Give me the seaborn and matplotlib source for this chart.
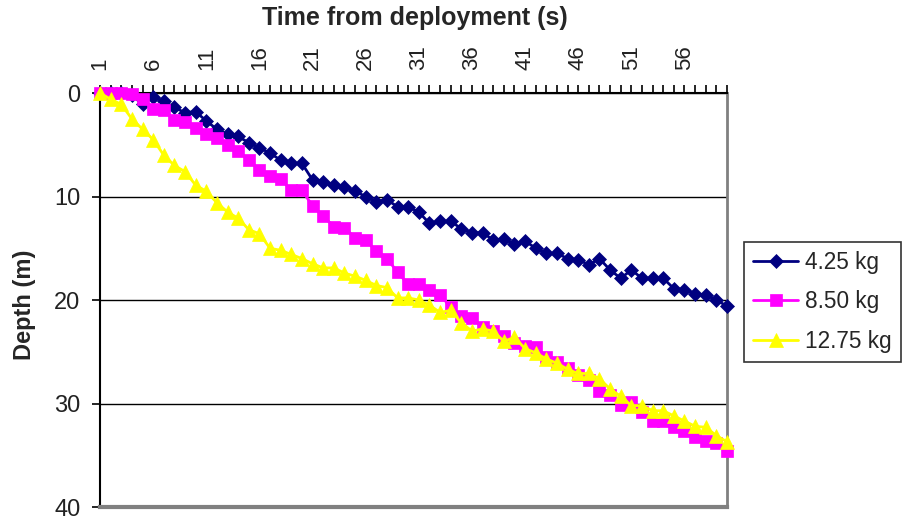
import numpy as np
import pandas as pd
import matplotlib
matplotlib.use("Agg")
import matplotlib.pyplot as plt
import seaborn as sns

# ---- data ----
time_s = list(range(1, 61))
depth_425 = [0, 0, 0, 0.2, 1.1, 0.4, 0.8, 1.4, 1.9, 1.8, 2.7, 3.5, 4.0, 4.2, 4.8, 5.3,
             5.8, 6.5, 6.8, 6.8, 8.4, 8.6, 8.9, 9.1, 9.5, 10.0, 10.5, 10.3, 11.0, 11.0,
             11.5, 12.6, 12.4, 12.4, 13.1, 13.5, 13.5, 14.2, 14.1, 14.6, 14.3, 15.0,
             15.5, 15.5, 16.0, 16.1, 16.6, 16.0, 17.1, 17.9, 17.1, 17.9, 17.9, 17.9,
             18.9, 19.0, 19.4, 19.5, 20.0, 20.6]
depth_850 = [0, 0, 0, 0.1, 0.6, 1.5, 1.6, 2.6, 2.8, 3.4, 4.0, 4.3, 5.0, 5.6, 6.5, 7.4,
             8.0, 8.3, 9.4, 9.4, 10.9, 11.9, 12.9, 13.0, 14.0, 14.2, 15.3, 16.0, 17.3,
             18.5, 18.5, 19.0, 19.5, 20.7, 21.5, 21.7, 22.6, 23.0, 23.5, 24.2, 24.4,
             24.5, 25.5, 26.0, 26.6, 27.2, 27.7, 28.8, 29.2, 30.1, 29.9, 30.8, 31.7,
             31.7, 32.3, 32.7, 33.2, 33.6, 33.8, 34.6]
depth_1275 = [0, 0.6, 1.1, 2.5, 3.5, 4.5, 6.0, 7.0, 7.6, 8.9, 9.5, 10.6, 11.5, 12.1,
              13.2, 13.6, 15.0, 15.2, 15.6, 16.0, 16.5, 16.9, 16.9, 17.4, 17.7, 18.1,
              18.6, 18.8, 19.8, 19.8, 20.0, 20.5, 21.2, 21.0, 22.2, 23.0, 22.8, 23.0,
              24.0, 23.6, 24.7, 25.1, 25.7, 26.1, 26.7, 27.1, 27.1, 27.6, 28.6, 29.3,
              30.2, 30.2, 30.7, 30.7, 31.2, 31.7, 32.2, 32.3, 33.1, 33.7]
series_names = ["4.25 kg", "8.50 kg", "12.75 kg"]
y_ticks = [0, 10, 20, 30, 40]
x_tick_labels = [1, 6, 11, 16, 21, 26, 31, 36, 41, 46, 51, 56]

df = pd.DataFrame({
    "time": time_s * 3,
    "depth": depth_425 + depth_850 + depth_1275,
    "mass": [series_names[0]] * 60 + [series_names[1]] * 60 + [series_names[2]] * 60,
})

sns.set_theme(style="white")
plt.rcParams["font.family"] = ["Liberation Sans", "DejaVu Sans"]

fig = plt.figure(figsize=(9.09, 5.23), dpi=100)
ax = fig.add_axes([100 / 909, 1 - 507 / 523, 627 / 909, 414 / 523])

colors = {"4.25 kg": "#000080", "8.50 kg": "#FF00FF", "12.75 kg": "#FFFF00"}
markers = {"4.25 kg": "D", "8.50 kg": "s", "12.75 kg": "^"}
msizes = {"4.25 kg": 7.3, "8.50 kg": 8.8, "12.75 kg": 10.3}

for name in series_names:
    sub = df[df["mass"] == name]
    sns.lineplot(data=sub, x="time", y="depth", ax=ax, color=colors[name],
                 marker=markers[name], markersize=msizes[name],
                 markeredgecolor=colors[name], markerfacecolor=colors[name],
                 markeredgewidth=0.5, linewidth=2.0, label=name,
                 clip_on=False, zorder=3)

ax.set_xlim(1, 60)
ax.set_ylim(40, 0)
ax.set_yticks(y_ticks)
ax.set_yticklabels([str(v) for v in y_ticks], fontsize=17, color="#222222")
ax.yaxis.grid(True, color="black", linewidth=1.0)
ax.xaxis.grid(False)

ax.xaxis.tick_top()
ax.set_xticks(time_s)
ax.set_xticklabels([str(t) if t in x_tick_labels else "" for t in time_s],
                   rotation=90, fontsize=16, color="#222222")
ax.tick_params(axis="x", which="major", direction="out", length=5.5, width=1.2,
               color="black", top=True, bottom=False, pad=11)
ax.tick_params(axis="y", which="major", direction="out", length=6, width=1.2,
               color="black", left=True, pad=8)
ax.set_xlabel("")
ax.set_ylabel("")

for side in ["top", "left"]:
    ax.spines[side].set_color("black")
    ax.spines[side].set_linewidth(1.5)
ax.spines["bottom"].set_color("#808080")
ax.spines["bottom"].set_linewidth(3)
ax.spines["right"].set_color("#808080")
ax.spines["right"].set_linewidth(2)
ax.set_facecolor("white")

fig.text(415 / 909, 1 - 18 / 523, "Time from deployment (s)", ha="center",
         va="center", fontsize=18, fontweight="bold")
fig.text(25 / 909, 1 - 305 / 523, "Depth (m)", ha="center", va="center",
         rotation=90, fontsize=17, fontweight="bold")

leg = ax.legend(loc="upper left", bbox_to_anchor=(744 / 909, 1 - 242 / 523),
                bbox_transform=fig.transFigure, fontsize=16.3, frameon=True,
                fancybox=False, edgecolor="black", handlelength=2.0,
                handletextpad=0.3, borderpad=0.4, labelspacing=0.72,
                borderaxespad=0)
leg.get_frame().set_linewidth(1.2)

fig.savefig("out.png", dpi=100, facecolor="white")
